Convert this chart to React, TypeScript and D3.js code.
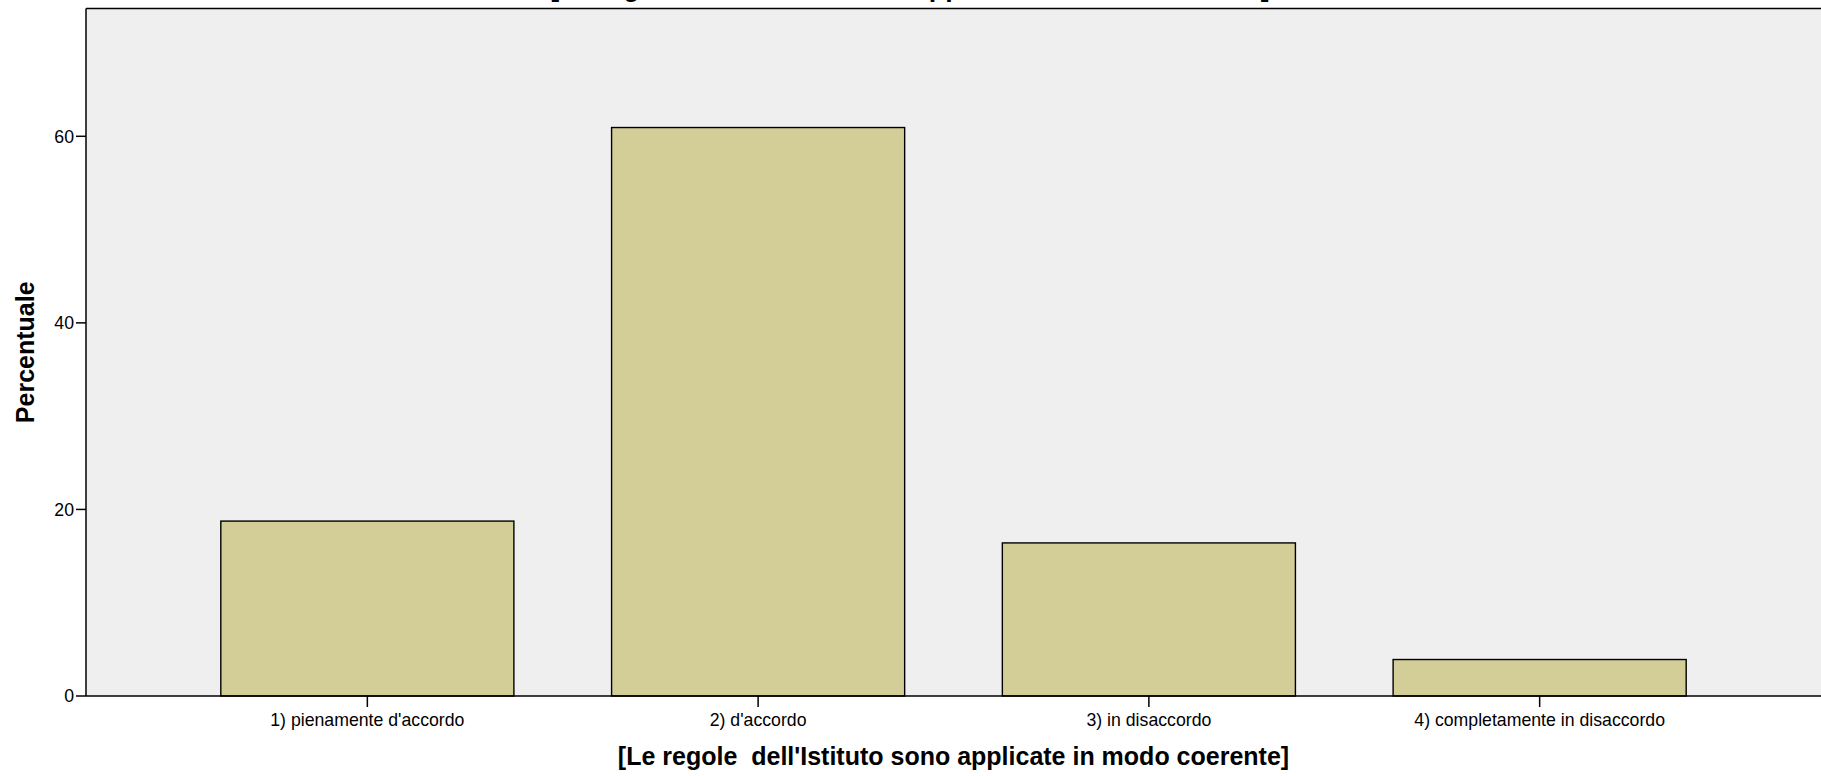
import React from "react";
import * as d3 from "d3";

const categories = [
  "1) pienamente d'accordo",
  "2) d'accordo",
  "3) in disaccordo",
  "4) completamente in disaccordo",
];
const percentages = [18.75, 60.94, 16.41, 3.91];
const yTicks = [0, 20, 40, 60];
const titleText = "[Le regole  dell'Istituto sono applicate in modo coerente]";
const xAxisTitle = "[Le regole  dell'Istituto sono applicate in modo coerente]";
const yAxisTitle = "Percentuale";

const W = 1821;
const H = 776;
const left = 86;
const right = 1821;
const top = 8.5;
const bottom = 696;

export default function App() {
  const x = d3
    .scaleBand<string>()
    .domain(categories)
    .range([left, right])
    .paddingInner(0.25)
    .paddingOuter(0.345);
  const y = d3.scaleLinear().domain([0, 73.7]).range([bottom, top]);
  const font = "'Liberation Sans', Arial, sans-serif";

  return (
    <svg
      width={W}
      height={H}
      style={{ position: "absolute", left: 0, top: 0, background: "#fff" }}
      fontFamily={font}
    >
      <rect x={left} y={top} width={right - left} height={bottom - top} fill="#efefef" />
      <text
        x={910}
        y={-4.5}
        textAnchor="middle"
        fontSize={26.8}
        fontWeight="bold"
        style={{ whiteSpace: "pre" }}
      >
        {titleText}
      </text>
      {categories.map((c, i) => (
        <rect
          key={c}
          x={x(c)}
          y={y(percentages[i])}
          width={x.bandwidth()}
          height={y(0) - y(percentages[i])}
          fill="#d3ce98"
          stroke="#000"
          strokeWidth={1.4}
        />
      ))}
      {/* frame */}
      <line x1={left} x2={right} y1={top} y2={top} stroke="#000" strokeWidth={1.5} />
      <line x1={left} x2={left} y1={top} y2={bottom} stroke="#000" strokeWidth={1.5} />
      <line x1={left} x2={right} y1={bottom} y2={bottom} stroke="#000" strokeWidth={1.5} />
      {yTicks.map((t) => (
        <g key={t}>
          <line x1={left - 10} x2={left} y1={y(t)} y2={y(t)} stroke="#000" strokeWidth={1.5} />
          <text x={left - 12} y={y(t)} dy="0.36em" textAnchor="end" fontSize={17.7}>
            {t}
          </text>
        </g>
      ))}
      {categories.map((c) => {
        const cx = (x(c) as number) + x.bandwidth() / 2;
        return (
          <g key={c}>
            <line x1={cx} x2={cx} y1={bottom} y2={bottom + 11} stroke="#000" strokeWidth={1.5} />
            <text x={cx} y={726} textAnchor="middle" fontSize={17.7}>
              {c}
            </text>
          </g>
        );
      })}
      <text
        x={(left + right) / 2}
        y={765}
        textAnchor="middle"
        fontSize={25}
        fontWeight="bold"
        style={{ whiteSpace: "pre" }}
      >
        {xAxisTitle}
      </text>
      <text
        transform={`translate(34, ${(top + bottom) / 2}) rotate(-90)`}
        textAnchor="middle"
        fontSize={25}
        fontWeight="bold"
      >
        {yAxisTitle}
      </text>
    </svg>
  );
}
